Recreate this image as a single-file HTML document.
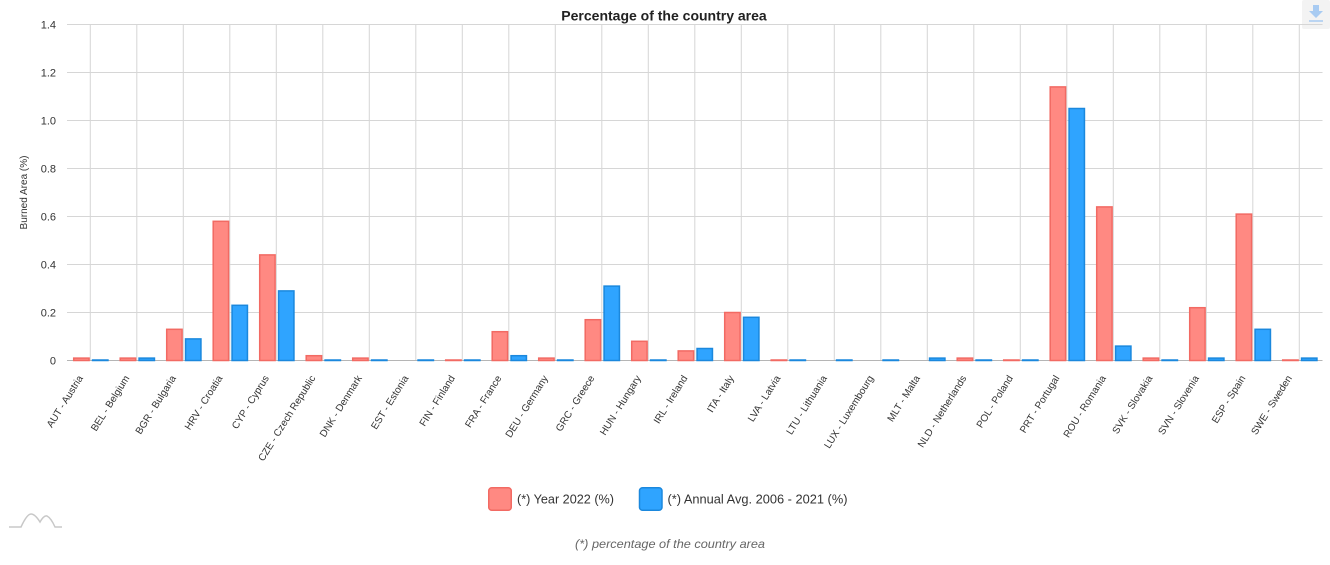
<!DOCTYPE html>
<html>
<head>
<meta charset="utf-8">
<style>
  html,body{margin:0;padding:0;background:#fff;}
  body{width:1330px;height:565px;overflow:hidden;}
  svg{display:block;font-family:"Liberation Sans",Arial,sans-serif;}
  .grid line{stroke:#d6d6d6;stroke-width:1;}
  .r{fill:#ff8982;stroke:#f26a63;stroke-width:1.5;}
  .b{fill:#2fa4ff;stroke:#1b88dd;stroke-width:1.5;}
  .yt{font-size:11px;fill:#333;text-anchor:end;}
  .xl{font-size:10px;fill:#333;text-anchor:end;}
</style>
</head>
<body>
<svg width="1330" height="565" viewBox="0 0 1330 565" xmlns="http://www.w3.org/2000/svg">
  <rect width="1330" height="565" fill="#fff"/>
  <!-- title -->
  <text x="664" y="20.5" text-anchor="middle" font-size="14" font-weight="bold" fill="#222">Percentage of the country area</text>

  <!-- download button -->
  <rect x="1302" y="0" width="28" height="29" rx="2" fill="#f3f3f3"/>
  <path d="M1313,5 h6 v6 h4 l-7,7 l-7,-7 h4 z" fill="#a8cbf2"/>
  <line x1="1309" y1="21" x2="1323" y2="21" stroke="#a8cbf2" stroke-width="1.5"/>

  <!-- horizontal grid -->
  <g class="grid">
    <line x1="67" y1="24.5" x2="1322.5" y2="24.5"/>
    <line x1="67" y1="72.5" x2="1322.5" y2="72.5"/>
    <line x1="67" y1="120.5" x2="1322.5" y2="120.5"/>
    <line x1="67" y1="168.5" x2="1322.5" y2="168.5"/>
    <line x1="67" y1="216.5" x2="1322.5" y2="216.5"/>
    <line x1="67" y1="264.5" x2="1322.5" y2="264.5"/>
    <line x1="67" y1="312.5" x2="1322.5" y2="312.5"/>
    <!-- vertical grid -->
    <line x1="90.3" y1="24.5" x2="90.3" y2="360.5"/>
    <line x1="136.8" y1="24.5" x2="136.8" y2="360.5"/>
    <line x1="183.3" y1="24.5" x2="183.3" y2="360.5"/>
    <line x1="229.8" y1="24.5" x2="229.8" y2="360.5"/>
    <line x1="276.3" y1="24.5" x2="276.3" y2="360.5"/>
    <line x1="322.8" y1="24.5" x2="322.8" y2="360.5"/>
    <line x1="369.3" y1="24.5" x2="369.3" y2="360.5"/>
    <line x1="415.8" y1="24.5" x2="415.8" y2="360.5"/>
    <line x1="462.3" y1="24.5" x2="462.3" y2="360.5"/>
    <line x1="508.8" y1="24.5" x2="508.8" y2="360.5"/>
    <line x1="555.3" y1="24.5" x2="555.3" y2="360.5"/>
    <line x1="601.8" y1="24.5" x2="601.8" y2="360.5"/>
    <line x1="648.3" y1="24.5" x2="648.3" y2="360.5"/>
    <line x1="694.8" y1="24.5" x2="694.8" y2="360.5"/>
    <line x1="741.3" y1="24.5" x2="741.3" y2="360.5"/>
    <line x1="787.8" y1="24.5" x2="787.8" y2="360.5"/>
    <line x1="834.3" y1="24.5" x2="834.3" y2="360.5"/>
    <line x1="880.8" y1="24.5" x2="880.8" y2="360.5"/>
    <line x1="927.3" y1="24.5" x2="927.3" y2="360.5"/>
    <line x1="973.8" y1="24.5" x2="973.8" y2="360.5"/>
    <line x1="1020.3" y1="24.5" x2="1020.3" y2="360.5"/>
    <line x1="1066.8" y1="24.5" x2="1066.8" y2="360.5"/>
    <line x1="1113.3" y1="24.5" x2="1113.3" y2="360.5"/>
    <line x1="1159.8" y1="24.5" x2="1159.8" y2="360.5"/>
    <line x1="1206.3" y1="24.5" x2="1206.3" y2="360.5"/>
    <line x1="1252.8" y1="24.5" x2="1252.8" y2="360.5"/>
    <line x1="1299.3" y1="24.5" x2="1299.3" y2="360.5"/>
  </g>
  <line x1="67" y1="360.5" x2="1322.5" y2="360.5" stroke="#b5b5b5" stroke-width="1"/>

  <!-- y tick labels -->
  <g class="yt">
    <text x="56" y="28.5">1.4</text>
    <text x="56" y="76.5">1.2</text>
    <text x="56" y="124.5">1.0</text>
    <text x="56" y="172.5">0.8</text>
    <text x="56" y="220.5">0.6</text>
    <text x="56" y="268.5">0.4</text>
    <text x="56" y="316.5">0.2</text>
    <text x="56" y="364.5">0</text>
  </g>
  <text transform="translate(27,192.5) rotate(-90)" text-anchor="middle" font-size="10" fill="#333">Burned Area (%)</text>

  <!-- red bars (Year 2022) -->
  <g class="r">
    <rect x="73.7" y="358.1" width="15.4" height="2.4"/>
    <rect x="120.2" y="358.1" width="15.4" height="2.4"/>
    <rect x="166.7" y="329.3" width="15.4" height="31.2"/>
    <rect x="213.2" y="221.3" width="15.4" height="139.2"/>
    <rect x="259.7" y="254.9" width="15.4" height="105.6"/>
    <rect x="306.2" y="355.7" width="15.4" height="4.8"/>
    <rect x="352.7" y="358.1" width="15.4" height="2.4"/>
    <rect x="445.7" y="360" width="15.4" height="0.5"/>
    <rect x="492.2" y="331.7" width="15.4" height="28.8"/>
    <rect x="538.7" y="358.1" width="15.4" height="2.4"/>
    <rect x="585.2" y="319.7" width="15.4" height="40.8"/>
    <rect x="631.7" y="341.3" width="15.4" height="19.2"/>
    <rect x="678.2" y="350.9" width="15.4" height="9.6"/>
    <rect x="724.7" y="312.5" width="15.4" height="48"/>
    <rect x="771.2" y="360" width="15.4" height="0.5"/>
    <rect x="957.2" y="358.1" width="15.4" height="2.4"/>
    <rect x="1003.7" y="360" width="15.4" height="0.5"/>
    <rect x="1050.2" y="86.9" width="15.4" height="273.6"/>
    <rect x="1096.7" y="206.9" width="15.4" height="153.6"/>
    <rect x="1143.2" y="358.1" width="15.4" height="2.4"/>
    <rect x="1189.7" y="307.7" width="15.4" height="52.8"/>
    <rect x="1236.2" y="214.1" width="15.4" height="146.4"/>
    <rect x="1282.7" y="360" width="15.4" height="0.5"/>
  </g>

  <!-- blue bars (Annual avg) -->
  <g class="b">
    <rect x="92.55" y="360" width="15.4" height="0.5"/>
    <rect x="139.05" y="358.1" width="15.4" height="2.4"/>
    <rect x="185.55" y="338.9" width="15.4" height="21.6"/>
    <rect x="232.05" y="305.3" width="15.4" height="55.2"/>
    <rect x="278.55" y="290.9" width="15.4" height="69.6"/>
    <rect x="325.05" y="360" width="15.4" height="0.5"/>
    <rect x="371.55" y="360" width="15.4" height="0.5"/>
    <rect x="418.05" y="360" width="15.4" height="0.5"/>
    <rect x="464.55" y="360" width="15.4" height="0.5"/>
    <rect x="511.05" y="355.7" width="15.4" height="4.8"/>
    <rect x="557.55" y="360" width="15.4" height="0.5"/>
    <rect x="604.05" y="286.1" width="15.4" height="74.4"/>
    <rect x="650.55" y="360" width="15.4" height="0.5"/>
    <rect x="697.05" y="348.5" width="15.4" height="12"/>
    <rect x="743.55" y="317.3" width="15.4" height="43.2"/>
    <rect x="790.05" y="360" width="15.4" height="0.5"/>
    <rect x="836.55" y="360" width="15.4" height="0.5"/>
    <rect x="883.05" y="360" width="15.4" height="0.5"/>
    <rect x="929.55" y="358.1" width="15.4" height="2.4"/>
    <rect x="976.05" y="360" width="15.4" height="0.5"/>
    <rect x="1022.55" y="360" width="15.4" height="0.5"/>
    <rect x="1069.05" y="108.5" width="15.4" height="252"/>
    <rect x="1115.55" y="346.1" width="15.4" height="14.4"/>
    <rect x="1162.05" y="360" width="15.4" height="0.5"/>
    <rect x="1208.55" y="358.1" width="15.4" height="2.4"/>
    <rect x="1255.05" y="329.3" width="15.4" height="31.2"/>
    <rect x="1301.55" y="358.1" width="15.4" height="2.4"/>
  </g>

  <!-- x labels -->
  <g class="xl">
    <text transform="translate(83.3,378) rotate(-58)">AUT - Austria</text>
    <text transform="translate(129.8,378) rotate(-58)">BEL - Belgium</text>
    <text transform="translate(176.3,378) rotate(-58)">BGR - Bulgaria</text>
    <text transform="translate(222.8,378) rotate(-58)">HRV - Croatia</text>
    <text transform="translate(269.3,378) rotate(-58)">CYP - Cyprus</text>
    <text transform="translate(315.8,378) rotate(-58)">CZE - Czech Republic</text>
    <text transform="translate(362.3,378) rotate(-58)">DNK - Denmark</text>
    <text transform="translate(408.8,378) rotate(-58)">EST - Estonia</text>
    <text transform="translate(455.3,378) rotate(-58)">FIN - Finland</text>
    <text transform="translate(501.8,378) rotate(-58)">FRA - France</text>
    <text transform="translate(548.3,378) rotate(-58)">DEU - Germany</text>
    <text transform="translate(594.8,378) rotate(-58)">GRC - Greece</text>
    <text transform="translate(641.3,378) rotate(-58)">HUN - Hungary</text>
    <text transform="translate(687.8,378) rotate(-58)">IRL - Ireland</text>
    <text transform="translate(734.3,378) rotate(-58)">ITA - Italy</text>
    <text transform="translate(780.8,378) rotate(-58)">LVA - Latvia</text>
    <text transform="translate(827.3,378) rotate(-58)">LTU - Lithuania</text>
    <text transform="translate(873.8,378) rotate(-58)">LUX - Luxembourg</text>
    <text transform="translate(920.3,378) rotate(-58)">MLT - Malta</text>
    <text transform="translate(966.8,378) rotate(-58)">NLD - Netherlands</text>
    <text transform="translate(1013.3,378) rotate(-58)">POL - Poland</text>
    <text transform="translate(1059.8,378) rotate(-58)">PRT - Portugal</text>
    <text transform="translate(1106.3,378) rotate(-58)">ROU - Romania</text>
    <text transform="translate(1152.8,378) rotate(-58)">SVK - Slovakia</text>
    <text transform="translate(1199.3,378) rotate(-58)">SVN - Slovenia</text>
    <text transform="translate(1245.8,378) rotate(-58)">ESP - Spain</text>
    <text transform="translate(1292.3,378) rotate(-58)">SWE - Sweden</text>
  </g>

  <!-- legend -->
  <rect x="488.75" y="487.75" width="22.5" height="22.5" rx="3" fill="#ff8982" stroke="#f26a63" stroke-width="1.5"/>
  <text x="517" y="503.5" font-size="13" fill="#333" textLength="97" lengthAdjust="spacingAndGlyphs">(*) Year 2022 (%)</text>
  <rect x="639.5" y="487.75" width="22.5" height="22.5" rx="3" fill="#2fa4ff" stroke="#1b88dd" stroke-width="1.5"/>
  <text x="667.5" y="503.5" font-size="13" fill="#333" textLength="180" lengthAdjust="spacingAndGlyphs">(*) Annual Avg. 2006 - 2021 (%)</text>

  <!-- footer -->
  <text x="670" y="548" text-anchor="middle" font-size="12" font-style="italic" fill="#666" textLength="190" lengthAdjust="spacingAndGlyphs">(*) percentage of the country area</text>

  <!-- logo -->
  <path d="M9,527 L21,527 Q27,514 31,514 Q35,514 40,522 Q44,515 47,516 Q51,518 55,527 L62,527" fill="none" stroke="#c8c8c8" stroke-width="1.5"/>
</svg>
</body>
</html>
